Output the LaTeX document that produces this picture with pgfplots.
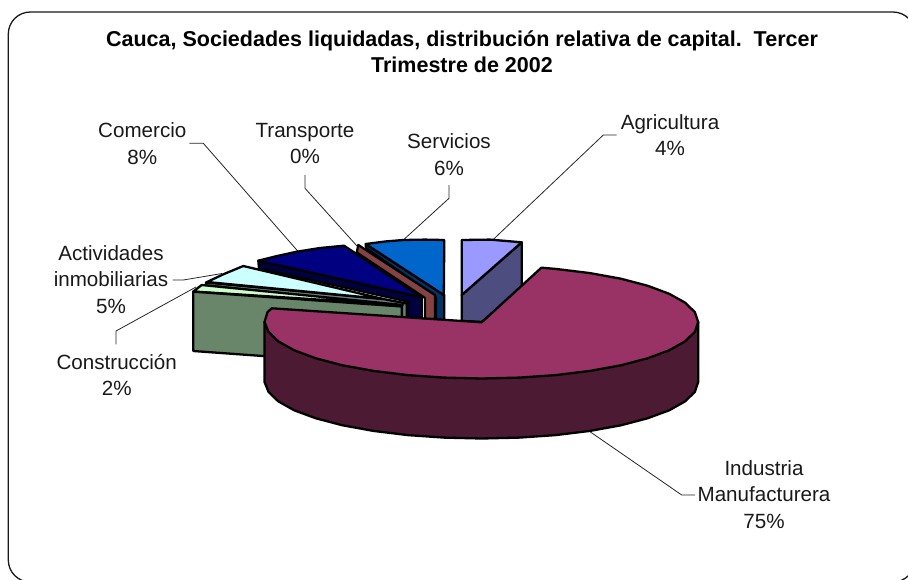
\documentclass[border=0pt]{standalone}
\usepackage{fontspec}
\setmainfont{Liberation Sans}
\usepackage{pgfplots}
\pgfplotsset{compat=1.18}
\definecolor{agritop}{HTML}{9999FF}
\definecolor{agriside}{HTML}{4D4D80}
\definecolor{magtop}{HTML}{993366}
\definecolor{magside}{HTML}{4D1A33}
\definecolor{greentop}{HTML}{CCFFCC}
\definecolor{greenside}{HTML}{6A866A}
\definecolor{cyantop}{HTML}{CCFFFF}
\definecolor{cyanside}{HTML}{668080}
\definecolor{navytop}{HTML}{000080}
\definecolor{navyside}{HTML}{000040}
\definecolor{brown}{HTML}{844242}
\definecolor{servtop}{HTML}{0066CC}
\definecolor{servside}{HTML}{003366}
\tikzset{
  pie/.style={draw=black, line width=2.3pt, line join=round},
  lead/.style={draw=black!85, line width=0.8pt},
  lab/.style={font=\fontsize{20.6}{26.4}\selectfont, align=center, anchor=center, text=black!90},
}
\begin{document}
\begin{tikzpicture}
\begin{axis}[
  width=908pt, height=579pt, scale only axis,
  xmin=0, xmax=908, ymin=0, ymax=579, y dir=reverse,
  axis lines=none, clip=true,
]
% frame
\addplot[draw=black!90, line width=1.3pt, rounded corners=22pt] coordinates {(8.3,100)(8.3,12)(915,12)(915,582)(8.3,582)(8.3,100)};
% leaders
\addplot[lead] coordinates {(189.3,143.3)(203.3,143.3)(298.3,251.7)};
\addplot[lead] coordinates {(305,175)(305,188.3)(357,246)};
\addplot[lead] coordinates {(172.7,280)(183.3,280)(222,273.5)};
\addplot[lead] coordinates {(116,344.3)(116,331)(196,287)};
\addplot[lead] coordinates {(449,185)(449,198.3)(403.3,240)};
\addplot[lead] coordinates {(616.7,135)(603.3,135)(492.7,240)};
\addplot[lead] coordinates {(590,431.7)(681.7,495)(695,495)};
% Agricultura
\addplot[pie, fill=agriside] coordinates {(461.7,295)(521.7,242.3)(521.7,290)(481.7,322)(461.7,321)} --cycle;
\addplot[pie, fill=agritop] coordinates {(461.7,240)(490,239.6)(521.7,242.3)(461.7,295)} --cycle;
% Servicios
\addplot[pie, fill=servside] coordinates {(365.7,244)(444.3,295)(444.3,320)(436,320)(436,297.3)(366,248)} --cycle;
\addplot[pie, fill=servtop] coordinates {(365.7,244)(385,241.5)(403.3,240)(425,239.6)(444.3,240)(443.8,295)} --cycle;
% Transporte
\addplot[pie, fill=brown] coordinates {(358.3,245)(435,295)(435,319)(425,319)(425,298)(356.7,252.5)} --cycle;
% Comercio
\addplot[pie, fill=navyside] coordinates {(258.3,260.7)(421.7,297.3)(421.7,319)(408.3,319)(408.3,301.7)(259,268.3)} --cycle;
\addplot[pie, fill=navytop] coordinates {(258.3,260.7)(275,256.5)(296.7,251.7)(320,248)(344,245.7)(421.7,297.3)} --cycle;
% Actividades inmobiliarias
\addplot[pie, fill=cyanside] coordinates {(206,282.5)(383.3,299)(406.7,303.5)(406.7,318)(402,318)(402,306)(206,285.5)} --cycle;
\addplot[pie, fill=cyantop] coordinates {(207,282)(224,274)(243.3,266)(383.3,299)} --cycle;
% Construccion
\addplot[pie, fill=greentop] coordinates {(193.3,291.5)(201.7,285)(403,305)} --cycle;
\addplot[pie, fill=greenside] coordinates {(193.3,291.7)(401.7,306.5)(401.7,366)(193.3,351)} --cycle;
% Industria Manufacturera side
\addplot[pie, fill=magside] coordinates {(698.2,322)(698.2,382)(694.9,391.8)(685.2,401.3)(669.2,410.3)(647.5,418.3)(620.9,425.3)(590,430.9)(555.7,435.1)(519.3,437.6)(481.7,438.5)(444.1,437.6)(407.7,435.1)(373.4,430.9)(342.5,425.3)(315.9,418.3)(294.2,410.3)(278.2,401.3)(268.5,391.8)(264.5,382)(264.5,322)} --cycle;
% Industria Manufacturera top
\addplot[pie, fill=magtop] coordinates {(541.4,267.7)(555.7,268.9)(590,273.1)(620.9,278.7)(647.5,285.7)(669.2,293.8)(685.2,302.7)(694.9,312.2)(698.2,322)(694.9,331.8)(685.2,341.3)(669.2,350.3)(647.5,358.3)(620.9,365.3)(590,370.9)(555.7,375.1)(519.3,377.6)(481.7,378.5)(444.1,377.6)(407.7,375.1)(373.4,370.9)(342.5,365.3)(315.9,358.3)(294.2,350.3)(278.2,341.3)(268.5,331.8)(264.5,322)(267.5,312.2)(271.7,308.3)(481.7,322.3)} --cycle;
% texts
\node[font=\fontsize{21.5}{26}\selectfont\bfseries, align=center, anchor=center, text=black] at (axis cs:462,52) {Cauca, Sociedades liquidadas, distribución relativa de capital.~~Tercer\\Trimestre de 2002};
\node[lab] at (axis cs:142.3,143.8) {Comercio\\8\%};
\node[lab] at (axis cs:305,143.8) {Transporte\\0\%};
\node[lab] at (axis cs:111,279.5) {Actividades\\inmobiliarias\\5\%};
\node[lab] at (axis cs:116.7,375) {Construcción\\2\%};
\node[lab] at (axis cs:449,154.5) {Servicios\\6\%};
\node[lab] at (axis cs:670,135) {Agricultura\\4\%};
\node[lab] at (axis cs:764,494.5) {Industria\\Manufacturera\\75\%};
\end{axis}
\pgfresetboundingbox
\path[use as bounding box] (0,0) rectangle (908pt,579pt);
\end{tikzpicture}
\end{document}
